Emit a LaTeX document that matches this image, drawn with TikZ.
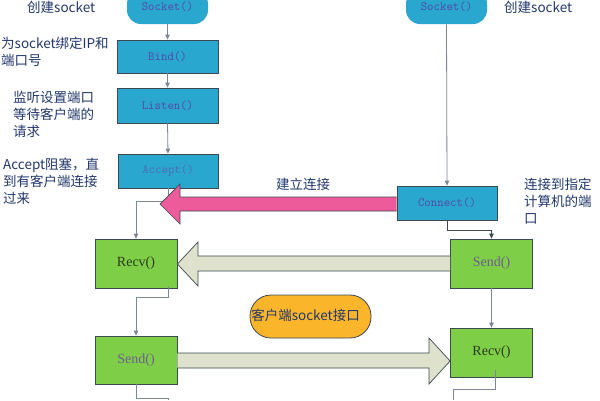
\documentclass[tikz,border=0pt]{standalone}
\usepackage{fontspec}
\newfontfamily\cjk{Noto Sans CJK SC}
\newfontfamily\serifb{Liberation Serif}
\usetikzlibrary{arrows.meta}
\definecolor{bluef}{HTML}{2AA7CF}
\definecolor{greenf}{HTML}{7ECE47}
\definecolor{pinkf}{HTML}{EE5B9B}
\definecolor{beigef}{HTML}{DEE2CD}
\definecolor{orangef}{HTML}{FBB52B}
\definecolor{boxline}{HTML}{3C4A50}
\definecolor{lbl}{HTML}{22386B}
\definecolor{conn}{HTML}{7B8796}
\definecolor{purp}{HTML}{5548A8}
\definecolor{accblue}{HTML}{4F6CB5}
\definecolor{sendtxt}{HTML}{6F5F8F}
\definecolor{recvtxt}{HTML}{2C3A20}
\tikzset{
  box/.style={draw=boxline, line width=0.8pt, inner sep=0pt},
  bluebox/.style={box, fill=bluef, text=purp, font=\ttfamily\fontsize{12.5}{14}\selectfont},
  greenbox/.style={box, fill=greenf, font=\serifb\fontsize{14}{16}\selectfont, minimum width=82pt, minimum height=49pt},
  pillbox/.style={bluebox, draw=none, rounded corners=14pt, minimum width=81pt, minimum height=34pt},
  lab/.style={text=lbl, font=\cjk\fontsize{13.5}{17}\selectfont, inner sep=0pt, align=left},
  cline/.style={draw=conn, line width=0.8pt},
  carrow/.style={cline, -{Triangle[width=4.5pt,length=5pt]}},
  bigarrow/.style={draw=boxline, line width=0.7pt, line join=miter},
}
\begin{document}
\begin{tikzpicture}[x=1pt,y=-1pt]
\useasboundingbox (0,0) rectangle (600,400);
\fill[white] (0,0) rectangle (600,400);

% server column
\node[pillbox] (sockL) at (167.5,7) {Socket()};
\node[bluebox, minimum width=101pt, minimum height=33pt] (bind) at (167.5,56.5) {Bind()};
\node[bluebox, minimum width=101pt, minimum height=35pt] (listen) at (167.5,105.5) {Listen()};
\node[bluebox, text=accblue, minimum width=100pt, minimum height=34pt] (accept) at (168,171) {Accept()};
\node[greenbox, text=recvtxt] (recvL) at (136,263.5) {Recv()};
\node[greenbox, text=sendtxt, minimum height=48pt] (sendL) at (136,360) {Send()};

% client column
\node[pillbox] (sockR) at (446.5,7) {Socket()};
\node[bluebox, minimum width=100pt, minimum height=34pt] (connect) at (447,203) {Connect()};
\node[greenbox, text=sendtxt] (sendR) at (491.5,263.5) {Send()};
\node[greenbox, text=recvtxt] (recvR) at (491.5,352.5) {Recv()};

% middle pill
\node[box, fill=orangef, rounded corners=21pt, minimum width=121pt, minimum height=43pt,
      font=\cjk\fontsize{13.5}{16}\selectfont, text=lbl] (client) at (310.5,316.5)
      {\raisebox{4pt}{客户端socket接口}\hspace*{10pt}};

% connectors
\draw[carrow] (sockL.south) -- (bind.north);
\draw[carrow] (bind.south) -- (listen.north);
\draw[carrow] (listen.south) -- (accept.north);
\draw[carrow] (accept.south) -- (168,201) -| (recvL.north);
\draw[carrow] (168,286) -- (168,297) -| (sendL.north);
\coordinate (endL) at (168,400);
\draw[cline] (sendL.south) |- (168,398) -- (endL);
\draw[carrow] (sockR.south) -- (connect.north);
\draw[line width=0.8pt, draw=boxline, -{Triangle[width=4.5pt,length=5pt]}] (connect.south) -- (447,230) -| (sendR.north);
\draw[carrow] (sendR.south) -- (recvR.north);
\coordinate (endR) at (453,400);
\draw[cline] (495,370) |- (453,389) -- (endR);

% big arrows
\draw[bigarrow, fill=pinkf] (connect.west |- 0,197) -- (180,197) -- (180,184) -- (160,204)
   -- (180,224) -- (180,211) -- (connect.west |- 0,211);
\draw[bigarrow, fill=beigef] (sendR.west |- 0,256) -- (198,256) -- (198,242) -- (recvL.east |- 0,264)
   -- (198,286) -- (198,271) -- (sendR.west |- 0,271);
\draw[bigarrow, fill=beigef] (sendL.east |- 0,353) -- (429,353) -- (429,338) -- (recvR.west |- 0,361)
   -- (429,384) -- (429,368) -- (sendL.east |- 0,368);

% labels
\node[lab, anchor=west] (l1) at (27,7) {创建socket};
\node[lab, anchor=west] (l2) at (1,52) {为socket绑定IP和\\端口号};
\node[lab, anchor=west] (l3) at (13,114) {监听设置端口\\等待客户端的\\请求};
\node[lab, anchor=west] (l4) at (3,181) {Accept阻塞，直\\到有客户端连接\\过来};
\node[lab, anchor=west] (r1) at (504,7) {创建socket};
\node[lab, anchor=west] (r2) at (276,184) {建立连接};
\node[lab, anchor=west] (r3) at (524,201) {连接到指定\\计算机的端\\口};
\end{tikzpicture}
\end{document}
